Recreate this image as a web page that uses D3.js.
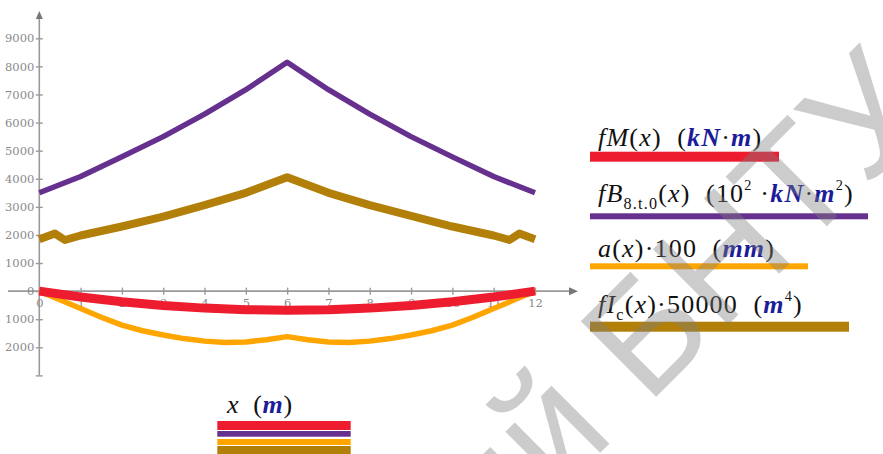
<!DOCTYPE html>
<html>
<head>
<meta charset="utf-8">
<script src="https://cdn.jsdelivr.net/npm/d3@7"></script>
<style>
  html, body { margin: 0; padding: 0; background: #fff; }
  svg { display: block; }
  text { white-space: pre; }
  .tk text { font-family: "DejaVu Serif"; }
  .mt { font-family: "Liberation Serif"; }
</style>
</head>
<body>
<svg id="chart" width="883" height="454"></svg>
<script>
// ---- data ----
const xM = [0,1,2,3,4,5,6,7,8,9,10,11,12];
const fM = [0,-210,-380,-510,-605,-660,-680,-660,-605,-510,-380,-210,0];

const xB = [0,1,2,3,4,5,6,7,8,9,10,11,12];
const fB = [3500,4080,4780,5500,6300,7170,8150,7170,6300,5500,4780,4080,3500];

const xA = [0,0.5,1,1.5,2,2.5,3,3.5,4,4.5,5,5.5,6,6.5,7,7.5,8,8.5,9,9.5,10,10.5,11,11.5,12];
const aX = [0,-310,-620,-930,-1210,-1410,-1560,-1690,-1780,-1830,-1810,-1730,-1620,-1730,-1810,-1830,-1780,-1690,-1560,-1410,-1210,-930,-620,-310,0];

const xI = [0,0.38,0.62,1,2,3,4,5,6,7,8,9,10,11,11.38,11.62,12];
const fI = [1850,2050,1820,1980,2300,2650,3060,3500,4050,3500,3060,2680,2300,1980,1820,2050,1850];

const xTicks = [0,1,2,3,4,5,6,7,8,9,10,11,12];
const yTicks = [-3000,-2000,-1000,0,1000,2000,3000,4000,5000,6000,7000,8000,9000];
const yTickLabels = ["", "2000", "1000", "0", "1000", "2000", "3000", "4000", "5000", "6000", "7000", "8000", "9000"];

const colors = {fM: "#ee1c2f", fB: "#66308f", a: "#ffa500", fI: "#b27f08"};

// ---- drawing ----
const svg = d3.select("#chart");
const x = d3.scaleLinear().domain([0, 12]).range([39.3, 535]);
const y = d3.scaleLinear().domain([-3000, 9000]).range([375.4, 38.3]);
const axisColor = "#9a9a9a";

// axes lines
const g = svg.append("g");
g.append("line").attr("x1", x(0)).attr("x2", x(0)).attr("y1", y(-3000)).attr("y2", 17)
  .attr("stroke", axisColor).attr("stroke-width", 1.6);
g.append("path").attr("d", `M${x(0)-3.5},19 L${x(0)},11 L${x(0)+3.5},19 Z`).attr("fill", "#777");
g.append("line").attr("x1", 8).attr("x2", 571).attr("y1", y(0)).attr("y2", y(0))
  .attr("stroke", axisColor).attr("stroke-width", 1.6);
g.append("path").attr("d", `M569,${y(0)-4} L578,${y(0)} L569,${y(0)+4} Z`).attr("fill", "#777");

// y axis ticks via d3 axis
const yAxis = d3.axisLeft(y).tickValues(yTicks).tickSize(0)
  .tickFormat((d, i) => yTickLabels[i]).tickPadding(5);
const ya = svg.append("g").attr("class", "tk").attr("transform", `translate(${x(0)},0)`).call(yAxis)
  .attr("font-family", null).attr("font-size", 11.5);
ya.select(".domain").remove();
ya.selectAll("text").attr("fill", "#8a8a8a");
ya.selectAll(".tick").append("line").attr("x1", -3.5).attr("x2", 3.5).attr("stroke", axisColor).attr("stroke-width", 1.4);

const xAxis = d3.axisBottom(x).tickValues(xTicks).tickSize(0).tickPadding(8).tickFormat(d3.format("d"));
const xa = svg.append("g").attr("class", "tk").attr("transform", `translate(0,${y(0)})`).call(xAxis)
  .attr("font-family", null).attr("font-size", 11.5);
xa.select(".domain").remove();
xa.selectAll("text").attr("fill", "#8a8a8a");
xa.selectAll(".tick").append("line").attr("y1", -3.5).attr("y2", 3.5).attr("stroke", axisColor).attr("stroke-width", 1.4);

// lines
const line = d3.line().x(d => x(d[0])).y(d => y(d[1])).curve(d3.curveLinear);
function drawSeries(xs, vs, color, w) {
  svg.append("path").datum(xs.map((v, i) => [v, vs[i]]))
    .attr("d", line).attr("fill", "none").attr("stroke", color)
    .attr("stroke-width", w).attr("stroke-linejoin", "round").attr("stroke-linecap", "butt");
}
drawSeries(xI, fI, colors.fI, 8);
drawSeries(xB, fB, colors.fB, 5.5);
drawSeries(xA, aX, colors.a, 5.5);
drawSeries(xM, fM, colors.fM, 9);

// ---- legend text helper ----
function mathText(parent, px, py, size, segs, ls) {
  const t = parent.append("text").attr("class", "mt").attr("x", px).attr("y", py)
    .style("font-size", size + "px").style("letter-spacing", ls + "px").attr("fill", "#111");
  let cur = 0;
  segs.forEach(s => {
    const [txt, st] = s;
    let target = 0, fs = size, style = "normal", weight = "normal", fill = "#111";
    if (st === "i") style = "italic";
    if (st === "b") { style = "italic"; weight = "bold"; fill = "#1c1c9a"; }
    if (st === "sub") { target = size * 0.28; fs = size * 0.62; }
    if (st === "sup") { target = -size * 0.45; fs = size * 0.55; }
    t.append("tspan").text(txt).attr("dy", target - cur)
      .style("font-size", fs + "px").style("font-style", style).style("font-weight", weight).attr("fill", fill);
    cur = target;
  });
  return t;
}

const legend = svg.append("g");
const legendRows = [
  {key: "fM", ty: 146, by: 151.7, bh: 10, bw: 779, segs: [["fM","i"],["(","r"],["x","i"],[")  (","r"],["kN","b"],["·","r"],["m","b"],[")","r"]]},
  {key: "fB", ty: 201.5, by: 213.3, bh: 6, bw: 868, segs: [["fB","i"],["8.t.0","sub"],["(","r"],["x","i"],[")  (10","r"],["2","sup"],[" ·","r"],["kN","b"],["·","r"],["m","b"],["2","sup"],[")","r"]]},
  {key: "a", ty: 256.5, by: 263.3, bh: 6, bw: 808, segs: [["a","i"],["(","r"],["x","i"],[")·100  (","r"],["mm","b"],[")","r"]]},
  {key: "fI", ty: 313, by: 321.7, bh: 10, bw: 849, segs: [["fI","i"],["c","sub"],["(","r"],["x","i"],[")·50000  (","r"],["m","b"],["4","sup"],[")","r"]]}
];
legendRows.forEach(r => {
  mathText(legend, 598, r.ty, 26, r.segs, 1.2);
  legend.append("rect").attr("x", 590).attr("y", r.by).attr("width", r.bw - 590).attr("height", r.bh).attr("fill", colors[r.key]);
});

// bottom x legend
mathText(svg, 227, 413, 26, [["x","i"],["  (","r"],["m","b"],[")","r"]], 0.6);
const xBars = [["fM", 421, 9], ["fB", 431, 5.7], ["a", 439, 6], ["fI", 446, 8]];
xBars.forEach(b => svg.append("rect").attr("x", 217.3).attr("y", b[1]).attr("width", 133.4).attr("height", b[2]).attr("fill", colors[b[0]]));

// watermark
svg.append("text").text("Репозиторий БНТУ")
  .attr("transform", "translate(935,118) rotate(-45)")
  .attr("text-anchor", "end")
  .style("font-family", "'Liberation Sans', Arial, sans-serif").style("font-size", "155px")
  .attr("fill", "#808080").attr("fill-opacity", 0.4);
</script>
</body>
</html>
